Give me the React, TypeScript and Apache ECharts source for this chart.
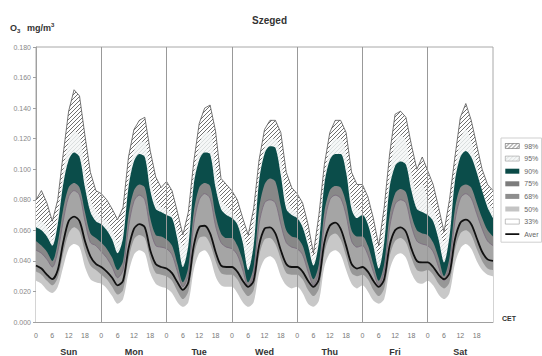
import React, { useEffect, useRef } from 'react';
import * as echarts from 'echarts';

const days = ['Sun', 'Mon', 'Tue', 'Wed', 'Thu', 'Fri', 'Sat'];
const stepHours = 2;
const hoursPerDay = 24;

// top of hatched band (98%)
const p98 = [
  0.080, 0.086, 0.078, 0.066, 0.080, 0.110, 0.138, 0.152, 0.148, 0.122, 0.098, 0.086,
  0.084, 0.080, 0.074, 0.067, 0.075, 0.108, 0.126, 0.132, 0.134, 0.112, 0.095, 0.088,
  0.092, 0.086, 0.072, 0.057, 0.072, 0.105, 0.130, 0.140, 0.142, 0.125, 0.094, 0.090,
  0.086, 0.080, 0.068, 0.057, 0.074, 0.106, 0.126, 0.132, 0.132, 0.124, 0.098, 0.088,
  0.084, 0.078, 0.064, 0.045, 0.070, 0.103, 0.124, 0.132, 0.132, 0.124, 0.098, 0.090,
  0.090, 0.082, 0.068, 0.050, 0.075, 0.110, 0.136, 0.138, 0.134, 0.116, 0.100, 0.108,
  0.099, 0.090, 0.075, 0.059, 0.080, 0.108, 0.134, 0.143, 0.132, 0.116, 0.100, 0.090,
  0.086,
];
// top of light band (95%)
const p95 = [
  0.066, 0.066, 0.062, 0.054, 0.070, 0.098, 0.118, 0.125, 0.122, 0.100, 0.080, 0.073,
  0.068, 0.066, 0.060, 0.052, 0.062, 0.094, 0.112, 0.118, 0.118, 0.094, 0.080, 0.075,
  0.074, 0.070, 0.060, 0.050, 0.062, 0.096, 0.115, 0.124, 0.124, 0.102, 0.080, 0.076,
  0.072, 0.068, 0.058, 0.050, 0.066, 0.096, 0.114, 0.120, 0.120, 0.108, 0.082, 0.074,
  0.072, 0.066, 0.054, 0.042, 0.062, 0.094, 0.114, 0.120, 0.120, 0.110, 0.080, 0.074,
  0.072, 0.066, 0.056, 0.044, 0.064, 0.096, 0.118, 0.122, 0.118, 0.098, 0.086, 0.090,
  0.080, 0.074, 0.064, 0.052, 0.070, 0.098, 0.120, 0.126, 0.118, 0.104, 0.086, 0.078,
  0.074,
];
// top of teal band (90%)
const p90 = [
  0.062, 0.060, 0.056, 0.050, 0.064, 0.090, 0.106, 0.111, 0.108, 0.088, 0.072, 0.066,
  0.064, 0.060, 0.054, 0.045, 0.055, 0.088, 0.105, 0.110, 0.108, 0.086, 0.074, 0.072,
  0.070, 0.068, 0.054, 0.036, 0.050, 0.090, 0.106, 0.111, 0.110, 0.088, 0.074, 0.070,
  0.068, 0.064, 0.052, 0.034, 0.050, 0.092, 0.110, 0.115, 0.114, 0.096, 0.074, 0.070,
  0.068, 0.062, 0.050, 0.037, 0.052, 0.090, 0.106, 0.110, 0.110, 0.098, 0.074, 0.068,
  0.070, 0.064, 0.050, 0.035, 0.052, 0.088, 0.102, 0.105, 0.103, 0.086, 0.074, 0.072,
  0.070, 0.066, 0.054, 0.039, 0.056, 0.092, 0.108, 0.112, 0.108, 0.098, 0.086, 0.075,
  0.068,
];
// top of dark gray band (75%)
const p75 = [
  0.053, 0.050, 0.046, 0.040, 0.052, 0.074, 0.088, 0.091, 0.088, 0.072, 0.058, 0.055,
  0.052, 0.048, 0.042, 0.034, 0.040, 0.070, 0.086, 0.090, 0.088, 0.068, 0.057, 0.056,
  0.054, 0.050, 0.038, 0.026, 0.036, 0.072, 0.088, 0.091, 0.089, 0.070, 0.058, 0.055,
  0.055, 0.050, 0.040, 0.026, 0.036, 0.074, 0.090, 0.094, 0.092, 0.076, 0.060, 0.056,
  0.055, 0.050, 0.038, 0.028, 0.038, 0.072, 0.086, 0.089, 0.088, 0.078, 0.060, 0.056,
  0.056, 0.050, 0.038, 0.027, 0.038, 0.070, 0.084, 0.087, 0.085, 0.070, 0.060, 0.058,
  0.057, 0.052, 0.042, 0.030, 0.042, 0.074, 0.088, 0.090, 0.088, 0.078, 0.068, 0.060,
  0.056,
];
// top of mid gray band (68%)
const p68 = [
  0.047, 0.045, 0.041, 0.036, 0.046, 0.066, 0.082, 0.086, 0.083, 0.066, 0.052, 0.050,
  0.046, 0.042, 0.036, 0.029, 0.034, 0.062, 0.079, 0.083, 0.080, 0.061, 0.050, 0.049,
  0.048, 0.044, 0.033, 0.023, 0.031, 0.064, 0.080, 0.084, 0.081, 0.063, 0.052, 0.049,
  0.048, 0.044, 0.034, 0.023, 0.031, 0.064, 0.078, 0.080, 0.078, 0.064, 0.052, 0.049,
  0.048, 0.044, 0.033, 0.024, 0.033, 0.064, 0.080, 0.083, 0.081, 0.070, 0.053, 0.049,
  0.050, 0.044, 0.033, 0.024, 0.033, 0.062, 0.077, 0.080, 0.078, 0.063, 0.053, 0.051,
  0.050, 0.046, 0.036, 0.027, 0.037, 0.066, 0.081, 0.084, 0.081, 0.071, 0.061, 0.053,
  0.050,
];
// average
const aver = [
  0.037, 0.035, 0.031, 0.028, 0.034, 0.052, 0.066, 0.069, 0.066, 0.053, 0.043, 0.038,
  0.036, 0.033, 0.029, 0.024, 0.027, 0.048, 0.061, 0.064, 0.062, 0.047, 0.038, 0.036,
  0.035, 0.032, 0.026, 0.021, 0.026, 0.050, 0.062, 0.063, 0.058, 0.046, 0.037, 0.036,
  0.036, 0.033, 0.027, 0.023, 0.027, 0.050, 0.061, 0.062, 0.058, 0.047, 0.038, 0.036,
  0.036, 0.033, 0.027, 0.023, 0.028, 0.052, 0.063, 0.065, 0.061, 0.050, 0.038, 0.035,
  0.036, 0.033, 0.027, 0.023, 0.028, 0.050, 0.060, 0.062, 0.059, 0.048, 0.040, 0.039,
  0.039, 0.036, 0.031, 0.028, 0.032, 0.054, 0.065, 0.067, 0.064, 0.055, 0.046, 0.041,
  0.040,
];
// bottom of the gray band below the average (top of 50% light band)
const p50 = [
  0.033, 0.031, 0.027, 0.024, 0.029, 0.045, 0.058, 0.062, 0.059, 0.046, 0.037, 0.034,
  0.031, 0.028, 0.023, 0.018, 0.021, 0.041, 0.054, 0.057, 0.055, 0.041, 0.032, 0.031,
  0.030, 0.027, 0.020, 0.015, 0.020, 0.043, 0.055, 0.056, 0.051, 0.040, 0.032, 0.031,
  0.031, 0.028, 0.021, 0.017, 0.021, 0.043, 0.054, 0.055, 0.051, 0.041, 0.032, 0.031,
  0.031, 0.028, 0.021, 0.017, 0.022, 0.045, 0.056, 0.058, 0.054, 0.043, 0.032, 0.030,
  0.031, 0.028, 0.021, 0.017, 0.022, 0.043, 0.053, 0.055, 0.052, 0.042, 0.034, 0.033,
  0.034, 0.031, 0.025, 0.022, 0.026, 0.047, 0.058, 0.060, 0.057, 0.048, 0.040, 0.035,
  0.034,
];
// lower bound of the light gray band (33%)
const p33 = [
  0.027, 0.025, 0.021, 0.019, 0.023, 0.036, 0.048, 0.051, 0.049, 0.036, 0.028, 0.026,
  0.025, 0.022, 0.017, 0.012, 0.015, 0.032, 0.044, 0.047, 0.045, 0.032, 0.025, 0.023,
  0.022, 0.019, 0.013, 0.010, 0.013, 0.034, 0.045, 0.047, 0.042, 0.030, 0.024, 0.023,
  0.023, 0.019, 0.013, 0.010, 0.013, 0.032, 0.041, 0.043, 0.040, 0.030, 0.024, 0.022,
  0.023, 0.019, 0.012, 0.010, 0.014, 0.036, 0.045, 0.047, 0.044, 0.034, 0.025, 0.022,
  0.024, 0.020, 0.014, 0.012, 0.015, 0.034, 0.043, 0.045, 0.042, 0.032, 0.026, 0.025,
  0.027, 0.024, 0.018, 0.015, 0.019, 0.038, 0.048, 0.051, 0.048, 0.040, 0.034, 0.031,
  0.030,
];

const FONT = '"Liberation Sans", Arial, sans-serif';

function makeHatch(bg: string, fg: string, size: number, lw: number) {
  const c = document.createElement('canvas');
  c.width = size;
  c.height = size;
  const ctx = c.getContext('2d')!;
  ctx.fillStyle = bg;
  ctx.fillRect(0, 0, size, size);
  ctx.strokeStyle = fg;
  ctx.lineWidth = lw;
  ctx.beginPath();
  ctx.moveTo(0, size);
  ctx.lineTo(size, 0);
  ctx.moveTo(-size / 2, size / 2);
  ctx.lineTo(size / 2, -size / 2);
  ctx.moveTo(size / 2, size * 1.5);
  ctx.lineTo(size * 1.5, size / 2);
  ctx.stroke();
  return { image: c, repeat: 'repeat', imageWidth: size, imageHeight: size } as any;
}

export default function App() {
  const ref = useRef<HTMLDivElement>(null);
  useEffect(() => {
    document.body.style.margin = '0';
    if (!ref.current) return;
    const chart = echarts.init(ref.current, undefined, { renderer: 'svg' });
    const hatchDark = makeHatch('#ffffff', '#5f5f5f', 4, 0.9);
    const hatchLight = makeHatch('#f5f7f7', '#d3d7d7', 4, 0.8);
    const pts = (arr: number[]) => arr.map((v, i) => [i * stepHours, v]);
    const band = (name: string, arr: number[], fill: any, legendColor: string, opts: any = {}) => ({
      name,
      type: 'line',
      data: pts(arr),
      symbol: 'none',
      smooth: opts.smooth ?? 0.3,
      silent: true,
      lineStyle: { width: opts.lineWidth ?? 0, color: opts.lineColor ?? legendColor },
      areaStyle: { color: fill, opacity: 1, origin: 'start' },
      itemStyle: { color: legendColor },
      z: 2,
    });
    const dayLines = days.slice(1).map((_, i) => ({ xAxis: (i + 1) * hoursPerDay }));
    const totalHours = days.length * hoursPerDay;

    chart.setOption({
      animation: false,
      textStyle: { fontFamily: FONT },
      title: {
        text: 'Szeged',
        left: 247,
        top: 10,
        textStyle: { fontSize: 10, fontWeight: 'bold', color: '#333', fontFamily: FONT },
      },
      grid: {
        left: 36,
        right: 49,
        top: 47,
        bottom: 30,
        show: true,
        borderColor: '#a8a8a8',
        borderWidth: 1,
        backgroundColor: 'transparent',
      },
      legend: {
        orient: 'vertical',
        left: 501,
        top: 138,
        padding: [4, 3, 4, 4],
        itemWidth: 14,
        itemHeight: 5,
        itemGap: 4.6,
        selectedMode: false,
        borderColor: '#cfcfcf',
        borderWidth: 1,
        textStyle: { fontSize: 7, color: '#666', lineHeight: 8, fontFamily: FONT },
        data: [
          { name: '98%', icon: 'rect', itemStyle: { color: hatchDark, borderColor: '#666', borderWidth: 0.6 } },
          { name: '95%', icon: 'rect', itemStyle: { color: hatchLight, borderColor: '#999', borderWidth: 0.6 } },
          { name: '90%', icon: 'rect', itemStyle: { color: '#0b4a47' } },
          { name: '75%', icon: 'rect', itemStyle: { color: '#7c7c7c' } },
          { name: '68%', icon: 'rect', itemStyle: { color: '#8e8e8e' } },
          { name: '50%', icon: 'rect', itemStyle: { color: '#c4c4c4' } },
          { name: '33%', icon: 'rect', itemStyle: { color: '#ffffff', borderColor: '#999', borderWidth: 0.6 } },
          {
            name: 'Aver',
            icon: 'path://M0 0L14 0L14 0.01L0 0.01ZM0 1.6L14 1.6L14 3.4L0 3.4ZM0 4.99L14 4.99L14 5L0 5Z',
            itemStyle: { color: '#111' },
          },
        ],
      },
      xAxis: [
        {
          type: 'value',
          min: 0,
          max: totalHours,
          interval: 6,
          axisLine: { show: true, lineStyle: { color: '#a0a0a0' } },
          axisTick: { show: false },
          splitLine: { show: false },
          axisLabel: {
            fontSize: 7,
            color: '#777',
            margin: 10,
            formatter: (v: number) => (v >= totalHours ? '' : String(v % hoursPerDay)),
          },
        },
        {
          type: 'category',
          data: days,
          position: 'bottom',
          offset: 17,
          boundaryGap: true,
          axisLine: { show: false },
          axisTick: { show: false },
          splitLine: { show: false },
          axisLabel: { fontSize: 9, fontWeight: 'bold', color: '#333', margin: 8 },
        },
      ],
      yAxis: {
        type: 'value',
        min: 0,
        max: 0.18,
        interval: 0.02,
        axisLine: { show: true, lineStyle: { color: '#a0a0a0' } },
        axisTick: { show: true, length: 3, lineStyle: { color: '#a0a0a0' } },
        splitLine: { show: false },
        axisLabel: {
          fontSize: 7,
          color: '#888',
          margin: 5,
          formatter: (v: number) => v.toFixed(3),
        },
      },
      graphic: [
        {
          type: 'text',
          left: 10,
          top: 22,
          style: {
            text: '{b|O}{s|3}  {b|mg/m}{p|3}',
            rich: {
              b: { fontSize: 9, fontWeight: 'bold', fill: '#333', fontFamily: FONT, lineHeight: 12 },
              s: { fontSize: 6, fontWeight: 'bold', fill: '#333', fontFamily: FONT, verticalAlign: 'bottom', lineHeight: 12, padding: [4, 0, 0, 0] },
              p: { fontSize: 6, fontWeight: 'bold', fill: '#333', fontFamily: FONT, verticalAlign: 'top', lineHeight: 12, padding: [0, 0, 5, 0] },
            },
          },
        },
        {
          type: 'text',
          left: 502,
          top: 315,
          style: { text: 'CET', fontSize: 7, fontWeight: 'bold', fill: '#333', fontFamily: FONT },
        },
      ],
      series: [
        band('98%', p98, hatchDark, '#999', { smooth: false, lineWidth: 0.8, lineColor: '#555' }),
        band('95%', p95, hatchLight, '#ddd'),
        band('90%', p90, '#0b4d4a', '#0b4a47'),
        band('75%', p75, '#888888', '#7c7c7c'),
        band('68%', p68, '#a5a5a5', '#8e8e8e', { lineWidth: 0.8, lineColor: '#7a6a7e' }),
        band('below', aver, '#979797', '#979797'),
        band('50%', p50, '#c8c8c8', '#c4c4c4'),
        band('33%', p33, '#ffffff', '#ffffff'),
        {
          name: 'Aver',
          type: 'line',
          data: pts(aver),
          symbol: 'none',
          smooth: 0.3,
          silent: true,
          z: 5,
          lineStyle: { width: 1.8, color: '#111' },
          itemStyle: { color: '#111' },
          markLine: {
            silent: true,
            symbol: ['none', 'none'],
            label: { show: false },
            lineStyle: { color: '#999', width: 1, type: 'solid' },
            data: dayLines,
          },
        },
      ],
    });
    return () => chart.dispose();
  }, []);
  return <div ref={ref} style={{ width: 542, height: 356 }} />;
}
